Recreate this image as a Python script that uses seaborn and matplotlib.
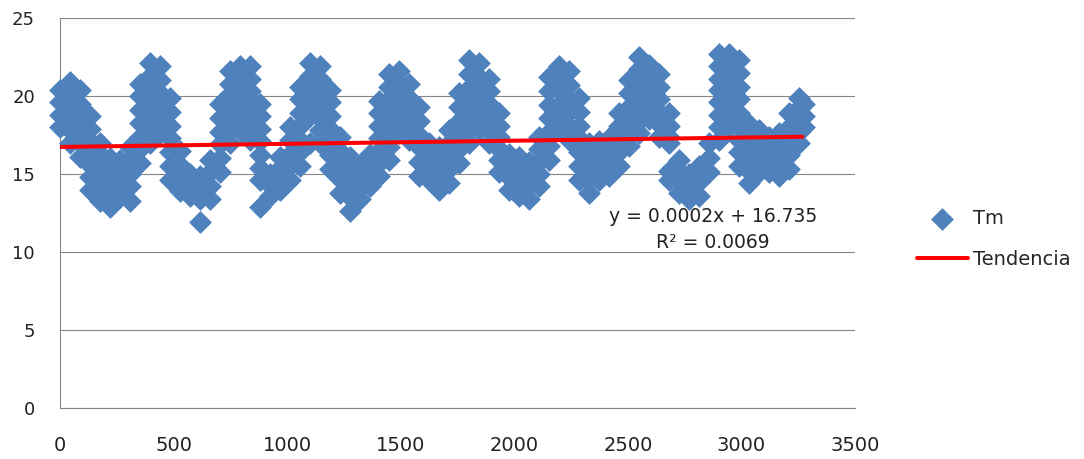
import numpy as np
import pandas as pd
import matplotlib
matplotlib.use("Agg")
import matplotlib.pyplot as plt
import seaborn as sns

# ---- data ----
# x position (day index) of each column of markers
dias = [0, 44, 88, 132, 176, 220, 264, 308, 352, 396, 439, 483, 527, 571, 615,
        659, 703, 747, 791, 835, 879, 923, 967, 1011, 1055, 1099, 1143, 1187,
        1231, 1275, 1319, 1363, 1406, 1450, 1494, 1538, 1582, 1626, 1670, 1714,
        1758, 1802, 1846, 1890, 1934, 1978, 2022, 2066, 2110, 2154, 2198, 2242,
        2285, 2329, 2373, 2417, 2461, 2505, 2549, 2593, 2637, 2681, 2725, 2769,
        2813, 2857, 2901, 2945, 2989, 3033, 3077, 3121, 3165, 3208, 3252, 3274]

# Tm values (°C) seen in each column, from top to bottom
tm_columnas = [
    [20.4, 19.6, 18.8, 18.0],
    [20.9, 20.1, 19.3, 18.6, 17.8, 17.0],
    [20.4, 19.5, 18.7, 17.8, 17.0, 16.1],
    [18.7, 17.9, 17.1, 16.4, 15.6, 14.8, 14.0],
    [17.0, 16.3, 15.5, 14.8, 14.0, 13.3],
    [16.0, 15.2, 14.5, 13.7, 12.9],
    [15.9, 15.1, 14.3, 13.5],
    [16.7, 15.9, 15.0, 14.2, 13.3],
    [20.8, 20.0, 19.1, 18.3, 17.4, 16.6, 15.7],
    [22.1, 21.3, 20.4, 19.6, 18.7, 17.9, 17.0],
    [21.9, 21.0, 20.2, 19.3, 18.5, 17.6],
    [19.9, 19.0, 18.1, 17.3, 16.4, 15.5, 14.6],
    [16.5, 15.6, 14.8, 13.9],
    [15.0, 14.3, 13.6],
    [14.9, 14.1, 13.4, 11.9],
    [15.9, 15.1, 14.2, 13.4],
    [19.5, 18.6, 17.7, 16.9, 16.0, 15.1],
    [21.6, 20.8, 20.1, 19.3, 18.5, 17.8, 17.0],
    [21.9, 21.1, 20.3, 19.4, 18.6, 17.8],
    [21.9, 21.1, 20.3, 19.6, 18.8, 18.0, 17.2],
    [19.5, 18.7, 17.9, 17.1, 16.2, 15.4, 14.6, 12.9],
    [15.0, 14.3, 13.6],
    [16.1, 15.4, 14.7, 14.0],
    [18.0, 17.2, 16.3, 15.5, 14.6],
    [20.6, 19.8, 18.9, 18.1, 17.2, 16.4, 15.5],
    [22.1, 21.3, 20.4, 19.6, 18.7, 17.0],
    [21.9, 21.1, 20.3, 19.5, 18.6, 17.8, 17.0],
    [20.4, 19.6, 18.7, 17.9, 17.0, 16.2, 15.3],
    [17.4, 16.5, 15.6, 14.7, 13.8],
    [16.1, 15.2, 14.4, 13.5, 12.6],
    [15.5, 14.8, 14.1, 13.4],
    [16.3, 15.6, 14.9, 14.2],
    [19.7, 18.9, 18.1, 17.3, 16.5, 15.7, 14.9],
    [21.4, 20.6, 19.8, 19.0, 18.3, 17.5, 16.7, 15.9],
    [21.6, 20.8, 20.0, 19.2, 18.4, 17.6],
    [20.8, 19.9, 19.0, 18.1, 17.2],
    [19.3, 18.4, 17.5, 16.7, 15.8, 14.9],
    [17.0, 16.2, 15.4, 14.6],
    [16.7, 15.8, 14.9, 14.0],
    [17.8, 17.0, 16.1, 15.3, 14.4],
    [20.2, 19.3, 18.4, 17.5, 16.6, 15.7],
    [22.3, 21.4, 20.5, 19.7, 18.8, 17.9, 17.0],
    [22.1, 21.2, 20.4, 19.5, 18.7, 17.8],
    [21.1, 20.3, 19.5, 18.6, 17.8, 17.0],
    [18.9, 18.1, 17.4, 16.6, 15.9, 15.1],
    [16.3, 15.5, 14.8, 14.0],
    [16.1, 15.3, 14.4, 13.6],
    [15.8, 15.0, 14.2, 13.4],
    [17.4, 16.6, 15.8, 15.0, 14.2],
    [21.2, 20.3, 19.4, 18.6, 17.7, 16.8, 15.9],
    [21.9, 21.1, 20.3, 19.4, 18.6, 17.8],
    [21.6, 20.7, 19.8, 19.0, 18.1, 17.2],
    [19.9, 19.0, 18.1, 17.3, 16.4, 15.5, 14.6],
    [17.0, 16.2, 15.4, 14.6, 13.8],
    [17.1, 16.3, 15.4, 14.6],
    [17.3, 16.5, 15.7, 14.9],
    [18.9, 18.1, 17.2, 16.4, 15.5],
    [21.0, 20.2, 19.3, 18.5, 17.6, 16.8],
    [22.5, 21.7, 20.9, 20.1, 19.2, 18.4, 17.6],
    [22.0, 21.1, 20.3, 19.4, 18.5],
    [21.4, 20.6, 19.8, 19.0, 18.2, 17.4],
    [18.9, 18.1, 17.4, 17.0, 15.2, 14.6],
    [15.9, 15.2, 14.5, 13.8],
    [15.0, 14.2, 13.4],
    [15.5, 14.5, 13.6],
    [17.0, 16.0, 15.1],
    [22.7, 21.9, 21.1, 20.4, 19.6, 18.8, 18.0, 17.2],
    [22.7, 21.9, 21.1, 20.4, 19.6, 18.8, 18.0],
    [22.3, 21.5, 20.6, 19.8, 18.9, 18.1, 17.2, 16.4, 15.5],
    [18.2, 17.4, 16.7, 15.9, 15.2, 14.4],
    [17.8, 16.9, 16.0, 15.1],
    [17.4, 16.6, 15.9, 15.1],
    [17.6, 16.7, 15.8, 14.9],
    [18.9, 18.0, 17.1, 16.2, 15.3],
    [19.9, 19.2, 18.5, 17.7, 17.0],
    [19.5, 18.7, 18.0],
]

# linear trend shown on the chart
pendiente = 0.0002
intercepto = 16.735
r2 = 0.0069
tendencia_x = [0, 3268]

x_ticks = [0, 500, 1000, 1500, 2000, 2500, 3000, 3500]
y_ticks = [0, 5, 10, 15, 20, 25]

# ---- build tidy table ----
filas = [(d, v) for d, col in zip(dias, tm_columnas) for v in col]
df = pd.DataFrame(filas, columns=["dia", "Tm"])
tendencia_y = [intercepto + pendiente * x for x in tendencia_x]
df_t = pd.DataFrame({"dia": tendencia_x, "Tm": tendencia_y})

sns.set_style("white")
plt.rcParams["font.family"] = ["DejaVu Sans"]

W, H = 1084, 459
fig = plt.figure(figsize=(W / 100, H / 100), dpi=100)
ax = fig.add_axes([60 / W, 1 - 408 / H, (855 - 60) / W, (408 - 18) / H])

grey = "#868686"
blue = "#4F81BD"

sns.scatterplot(data=df, x="dia", y="Tm", marker="D", s=135, color=blue,
                linewidth=0, ax=ax, label="Tm", clip_on=False, zorder=3)
sns.lineplot(data=df_t, x="dia", y="Tm", color="#FF0000", linewidth=2.9,
             ax=ax, label="Tendencia", zorder=4)

ax.set_xlim(0, 3500)
ax.set_ylim(0, 25)
ax.set_xticks(x_ticks)
ax.set_yticks(y_ticks)
ax.set_xticklabels([str(t) for t in x_ticks], fontsize=14, color="#222222")
ax.set_yticklabels([str(t) for t in y_ticks], fontsize=13, color="#222222")
ax.set_xlabel("")
ax.set_ylabel("")

ax.yaxis.grid(True, color=grey, linewidth=0.8)
ax.xaxis.grid(False)
ax.set_axisbelow(True)
for s in ["top", "right"]:
    ax.spines[s].set_visible(False)
for s in ["left", "bottom"]:
    ax.spines[s].set_color(grey)
    ax.spines[s].set_linewidth(0.8)
ax.tick_params(axis="both", direction="out", length=6, width=0.8, color=grey)
ax.tick_params(axis="y", pad=12)
ax.tick_params(axis="x", pad=14)

handles, labels = ax.get_legend_handles_labels()
ax.legend(handles, labels, loc="center left",
          bbox_to_anchor=(917 / W, 1 - 239 / H), bbox_transform=fig.transFigure,
          frameon=False, fontsize=14, handlelength=2.6, handletextpad=0.26,
          labelspacing=1.1, borderpad=0, borderaxespad=0)

fig.text(713 / W, 1 - 217 / H, f"y = {pendiente}x + {intercepto}",
         ha="center", va="center", fontsize=13.5, color="#222222")
fig.text(713 / W, 1 - 243 / H, f"R² = {r2}",
         ha="center", va="center", fontsize=13.5, color="#222222")

fig.savefig("out.png", dpi=100)
